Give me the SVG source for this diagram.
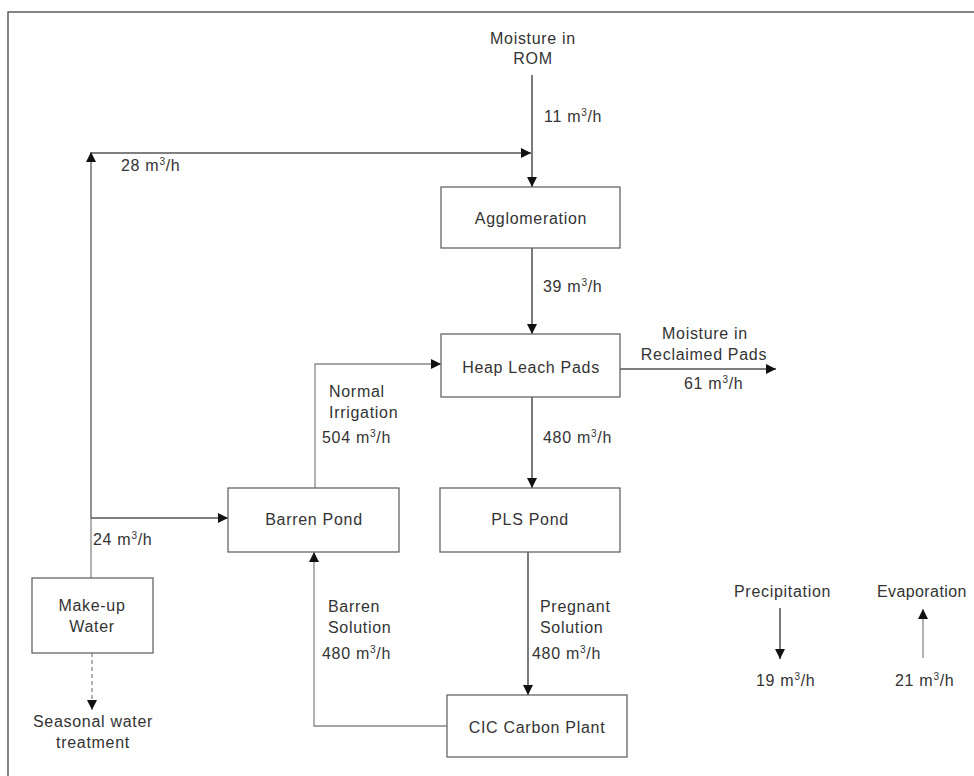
<svg xmlns="http://www.w3.org/2000/svg" width="974" height="776" viewBox="0 0 974 776">
<defs>
<marker id="ah" viewBox="0 0 10 10" refX="10" refY="5" markerWidth="10" markerHeight="10" markerUnits="userSpaceOnUse" orient="auto">
<path d="M0,0 L10,5 L0,10 Z" fill="#111"/>
</marker>
</defs>
<style>
text{font-family:"Liberation Sans",Arial,sans-serif;font-size:16px;fill:#333;letter-spacing:0.7px}
.c{text-anchor:middle}
.box{fill:#fff;stroke:#666;stroke-width:1.3}
.ln{fill:none;stroke:#555;stroke-width:1.3}
.dk{fill:none;stroke:#333;stroke-width:1.3}
.lt{fill:none;stroke:#888;stroke-width:1.3}
.sup{font-size:10px}
</style>
<rect x="0" y="0" width="974" height="776" fill="#fff"/>
<rect x="8" y="12" width="980" height="780" fill="none" stroke="#444" stroke-width="1.3"/>

<g id="connectors">
<line class="dk" x1="532" y1="75" x2="532" y2="187" marker-end="url(#ah)"/>
<polyline class="ln" points="91,518 91,152" marker-end="url(#ah)"/>
<line class="lt" x1="91" y1="578" x2="91" y2="518"/>
<line class="ln" x1="91" y1="153" x2="531" y2="153" marker-end="url(#ah)"/>
<line class="dk" x1="532" y1="248" x2="532" y2="334" marker-end="url(#ah)"/>
<line class="ln" x1="620" y1="369" x2="776" y2="369" marker-end="url(#ah)"/>
<polyline class="lt" points="315,488 315,364 441,364" marker-end="url(#ah)"/>
<line class="ln" x1="91" y1="518" x2="228" y2="518" marker-end="url(#ah)"/>
<line class="dk" x1="532" y1="397" x2="532" y2="488" marker-end="url(#ah)"/>
<line class="dk" x1="528" y1="552" x2="528" y2="695" marker-end="url(#ah)"/>
<polyline class="lt" points="447,726 314,726 314,552" marker-end="url(#ah)"/>
<line class="lt" x1="92" y1="653" x2="92" y2="710" stroke-dasharray="4,3" marker-end="url(#ah)"/>
<line class="dk" x1="780" y1="608" x2="780" y2="659" marker-end="url(#ah)"/>
<line class="lt" x1="923" y1="658" x2="923" y2="609" marker-end="url(#ah)"/>
</g>

<g id="agglomeration">
<rect class="box" x="441" y="187" width="179" height="61"/>
<text class="c" x="531" y="224">Agglomeration</text>
</g>
<g id="heap-leach-pads">
<rect class="box" x="441" y="334" width="179" height="63"/>
<text class="c" x="531" y="373">Heap Leach Pads</text>
</g>
<g id="barren-pond">
<rect class="box" x="228" y="488" width="171" height="64"/>
<text class="c" x="314" y="525">Barren Pond</text>
</g>
<g id="pls-pond">
<rect class="box" x="440" y="488" width="180" height="64"/>
<text class="c" x="530" y="525">PLS Pond</text>
</g>
<g id="cic-carbon-plant">
<rect class="box" x="447" y="695" width="180" height="62"/>
<text class="c" x="537" y="733">CIC Carbon Plant</text>
</g>
<g id="make-up-water">
<rect class="box" x="32" y="578" width="121" height="75"/>
<text class="c" x="92" y="611">Make-up</text>
<text class="c" x="92" y="632">Water</text>
</g>

<g id="labels">
<text class="c" x="533" y="44">Moisture in</text>
<text class="c" x="533" y="64">ROM</text>
<text x="544" y="122">11 m<tspan class="sup" dy="-6">3</tspan><tspan dy="6">/h</tspan></text>
<text x="121" y="171">28 m<tspan class="sup" dy="-6">3</tspan><tspan dy="6">/h</tspan></text>
<text x="543" y="292">39 m<tspan class="sup" dy="-6">3</tspan><tspan dy="6">/h</tspan></text>
<text class="c" x="705" y="339">Moisture in</text>
<text class="c" x="704" y="360">Reclaimed Pads</text>
<text x="684" y="389">61 m<tspan class="sup" dy="-6">3</tspan><tspan dy="6">/h</tspan></text>
<text x="329" y="397">Normal</text>
<text x="329" y="418">Irrigation</text>
<text x="322" y="443">504 m<tspan class="sup" dy="-6">3</tspan><tspan dy="6">/h</tspan></text>
<text x="543" y="443">480 m<tspan class="sup" dy="-6">3</tspan><tspan dy="6">/h</tspan></text>
<text x="93" y="545">24 m<tspan class="sup" dy="-6">3</tspan><tspan dy="6">/h</tspan></text>
<text x="328" y="612">Barren</text>
<text x="328" y="633">Solution</text>
<text x="322" y="659">480 m<tspan class="sup" dy="-6">3</tspan><tspan dy="6">/h</tspan></text>
<text x="540" y="612">Pregnant</text>
<text x="540" y="633">Solution</text>
<text x="532" y="659">480 m<tspan class="sup" dy="-6">3</tspan><tspan dy="6">/h</tspan></text>
<text class="c" x="93" y="727">Seasonal water</text>
<text class="c" x="93" y="748">treatment</text>
<text x="734" y="597">Precipitation</text>
<text x="756" y="686">19 m<tspan class="sup" dy="-6">3</tspan><tspan dy="6">/h</tspan></text>
<text x="877" y="597" style="letter-spacing:0.4px">Evaporation</text>
<text x="895" y="686">21 m<tspan class="sup" dy="-6">3</tspan><tspan dy="6">/h</tspan></text>
</g>
</svg>
